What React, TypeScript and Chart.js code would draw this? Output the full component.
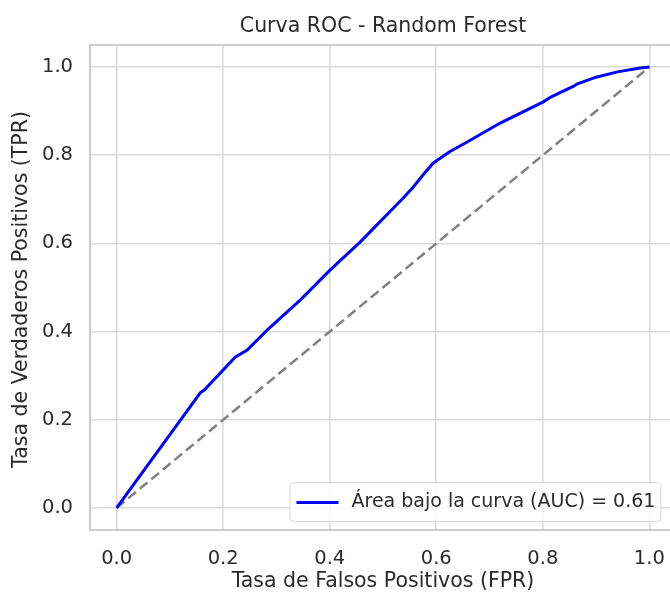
import React, { useEffect, useRef } from "react";
import { Chart, registerables } from "chart.js";

Chart.register(...registerables);

// ROC curve
const fpr = [0, 0.157, 0.165, 0.2225, 0.245, 0.283, 0.345, 0.401, 0.457, 0.538, 0.557, 0.575, 0.594, 0.625, 0.658, 0.72, 0.801, 0.815, 0.857, 0.865, 0.9, 0.94, 0.983, 1.0];
const tpr = [0, 0.261, 0.268, 0.342, 0.358, 0.404, 0.472, 0.54, 0.603, 0.703, 0.728, 0.755, 0.782, 0.808, 0.83, 0.873, 0.921, 0.932, 0.956, 0.962, 0.977, 0.989, 0.998, 1.0];
const diagX = [0, 1];
const diagY = [0, 1];
const tickValues = [0, 0.2, 0.4, 0.6, 0.8, 1.0];
const chartTitle = "Curva ROC - Random Forest";
const xTitle = "Tasa de Falsos Positivos (FPR)";
const yTitle = "Tasa de Verdaderos Positivos (TPR)";
const rocLabel = "Área bajo la curva (AUC) = 0.61";

const FONT = "'DejaVu Sans', sans-serif";
const TEXT = "#2b2b2b";

const decor = {
  id: "decor",
  afterDatasetsDraw(chart: any) {
    const { ctx, chartArea: a } = chart;
    ctx.save();
    // spines
    ctx.strokeStyle = "#cccccc";
    ctx.lineWidth = 2;
    ctx.strokeRect(a.left, a.top, a.right - a.left, a.bottom - a.top);

    // legend (lower right, inside axes)
    ctx.font = `19px ${FONT}`;
    const tw = ctx.measureText(rocLabel).width;
    const boxW = 7 + 42 + 13 + tw + 5;
    const boxH = 39;
    const right = a.right - 15.6;
    const bottom = a.bottom - 9;
    const left = right - boxW;
    const top = bottom - boxH;
    ctx.beginPath();
    (ctx as any).roundRect(left + 0.5, top + 0.5, boxW, boxH, 4);
    ctx.fillStyle = "rgba(255,255,255,0.8)";
    ctx.fill();
    ctx.strokeStyle = "#d9d9d9";
    ctx.lineWidth = 1;
    ctx.stroke();
    const midY = top + boxH / 2 + 1;
    ctx.beginPath();
    ctx.moveTo(left + 7, midY);
    ctx.lineTo(left + 49, midY);
    ctx.strokeStyle = "#0000ff";
    ctx.lineWidth = 3;
    ctx.stroke();
    ctx.fillStyle = TEXT;
    ctx.textAlign = "left";
    ctx.textBaseline = "middle";
    ctx.fillText(rocLabel, left + 62, midY);
    ctx.restore();
  },
  afterDraw(chart: any) {
    const { ctx, chartArea: a } = chart;
    const cx = (a.left + a.right) / 2;
    ctx.save();
    ctx.fillStyle = TEXT;
    ctx.textAlign = "center";
    ctx.textBaseline = "middle";
    ctx.font = `20.5px ${FONT}`;
    ctx.fillText(chartTitle, cx, 27);
    ctx.font = `20.5px ${FONT}`;
    ctx.fillText(xTitle, cx, 582);
    ctx.translate(22, (a.top + a.bottom) / 2 + 2);
    ctx.rotate(-Math.PI / 2);
    ctx.fillText(yTitle, 0, 0);
    ctx.restore();
  },
};

export default function App() {
  const ref = useRef<HTMLCanvasElement | null>(null);
  useEffect(() => {
    if (!ref.current) return;
    const setTicks = (scale: any) => {
      scale.ticks = tickValues.map((v) => ({ value: v }));
    };
    const chart = new Chart(ref.current, {
      type: "scatter",
      data: {
        datasets: [
          {
            label: rocLabel,
            data: fpr.map((x, i) => ({ x, y: tpr[i] })),
            showLine: true,
            borderColor: "#0000ff",
            backgroundColor: "#0000ff",
            borderWidth: 3,
            pointRadius: 0,
            tension: 0,
            order: 1,
          },
          {
            label: "diag",
            data: diagX.map((x, i) => ({ x, y: diagY[i] })),
            showLine: true,
            borderColor: "#808080",
            borderWidth: 2.5,
            borderDash: [10, 5],
            pointRadius: 0,
            order: 2,
          },
        ],
      },
      options: {
        responsive: false,
        animation: false,
        devicePixelRatio: 1,
        layout: { padding: { top: 45, right: 24, left: 0, bottom: 0 } },
        plugins: { legend: { display: false }, title: { display: false }, tooltip: { enabled: false } },
        scales: {
          x: {
            type: "linear",
            min: -0.05,
            max: 1.05,
            afterBuildTicks: setTicks,
            afterFit: (s: any) => {
              s.height = 63;
            },
            grid: { color: "#dcdcdc", lineWidth: 1.6, drawTicks: false },
            border: { display: false },
            ticks: {
              padding: 17,
              color: TEXT,
              font: { family: FONT, size: 19.5 },
              maxRotation: 0,
              callback: (v: any) => Number(v).toFixed(1),
            },
          },
          y: {
            type: "linear",
            min: -0.05,
            max: 1.05,
            afterBuildTicks: setTicks,
            afterFit: (s: any) => {
              s.width = 90;
            },
            grid: { color: "#dcdcdc", lineWidth: 1.6, drawTicks: false },
            border: { display: false },
            ticks: {
              padding: 17,
              color: TEXT,
              font: { family: FONT, size: 19.5 },
              callback: (v: any) => Number(v).toFixed(1),
            },
          },
        },
      },
      plugins: [decor],
    });
    return () => chart.destroy();
  }, []);
  return (
    <div style={{ position: "fixed", left: 0, top: 0, width: 670, height: 593, overflow: "hidden", background: "#fff" }}>
      <canvas ref={ref} width={700} height={593} style={{ display: "block", width: 700, height: 593 }} />
    </div>
  );
}
